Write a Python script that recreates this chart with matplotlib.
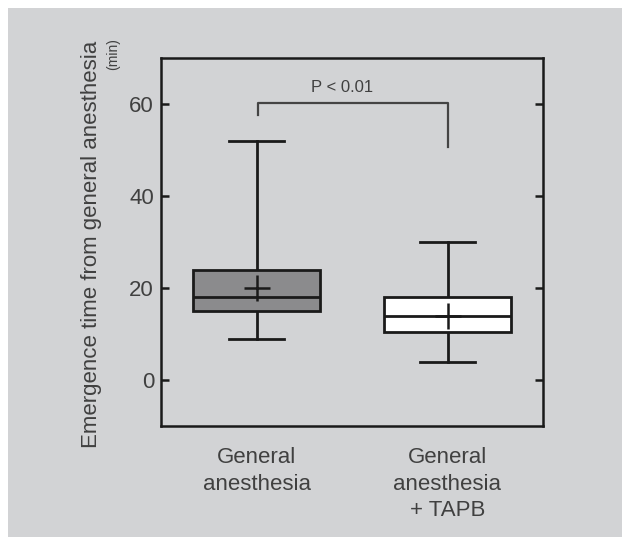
import matplotlib.pyplot as plt
from matplotlib.patches import Rectangle

plt.rcParams['font.family'] = ['Liberation Sans', 'DejaVu Sans']

# box statistics (minutes)
groups = ['General\nanesthesia', 'General\nanesthesia\n+ TAPB']
whislo = [9, 4]
q1 = [15, 10.4]
med = [18, 14]
q3 = [24, 18]
whishi = [52, 30]
means = [20, 14]
fills = ['#8b8b8d', '#ffffff']

bg = '#d2d3d5'
txt = '#404040'

fig = plt.figure(figsize=(6.22, 5.37), dpi=100)
fig.patch.set_facecolor('white')
fig.patches.append(Rectangle((8 / 622, 0), 1, 529 / 537, transform=fig.transFigure,
                             facecolor=bg, edgecolor='none', zorder=-10))

ax = fig.add_axes([161 / 622, 1 - 426 / 537, 382 / 622, 368 / 537])
ax.set_facecolor(bg)

stats = []
for i in range(len(groups)):
    stats.append(dict(whislo=whislo[i], q1=q1[i], med=med[i], q3=q3[i],
                      whishi=whishi[i], mean=means[i], fliers=[]))

lw = 2.0
bp = ax.bxp(stats, positions=[1, 2], widths=0.67, patch_artist=True,
            showmeans=True, showfliers=False,
            boxprops=dict(linewidth=lw, edgecolor='#1a1a1a'),
            medianprops=dict(color='#1a1a1a', linewidth=lw),
            whiskerprops=dict(color='#1a1a1a', linewidth=lw),
            capprops=dict(color='#1a1a1a', linewidth=lw),
            meanprops=dict(marker='+', markersize=19, markeredgewidth=1.8,
                           markeredgecolor='#1a1a1a'),
            capwidths=0.29)
for patch, c in zip(bp['boxes'], fills):
    patch.set_facecolor(c)
for w in bp['whiskers']:
    w.set_zorder(1)

# significance bracket
ax.plot([1.008, 1.008, 2.0, 2.0], [57.6, 60.2, 60.2, 50.7], color='#444444',
        linewidth=1.6)
ax.text(1.45, 62.6, 'P < 0.01', ha='center', va='baseline', fontsize=12,
        color=txt)

ax.set_xlim(0.5, 2.5)
ax.set_ylim(-10, 70)
ax.set_yticks([0, 20, 40, 60])
ax.set_xticks([1, 2])
ax.set_xticklabels(groups, fontsize=16, color=txt, linespacing=1.36)
ax.tick_params(axis='x', length=0, pad=15)
ax.tick_params(axis='y', direction='in', length=5.5, width=1.8, labelsize=16,
               labelcolor=txt, pad=5, right=True, color='#1a1a1a')
for s in ax.spines.values():
    s.set_linewidth(1.8)
    s.set_color('#1a1a1a')

fig.text(92 / 622, 1 - 244 / 537, 'Emergence time from general anesthesia',
         rotation=90, ha='center', va='center', fontsize=16, color=txt)
fig.text(113 / 622, 1 - 54 / 537, '(min)', rotation=90, ha='center',
         va='center', fontsize=10, color=txt)

fig.savefig('out.png', dpi=100)
